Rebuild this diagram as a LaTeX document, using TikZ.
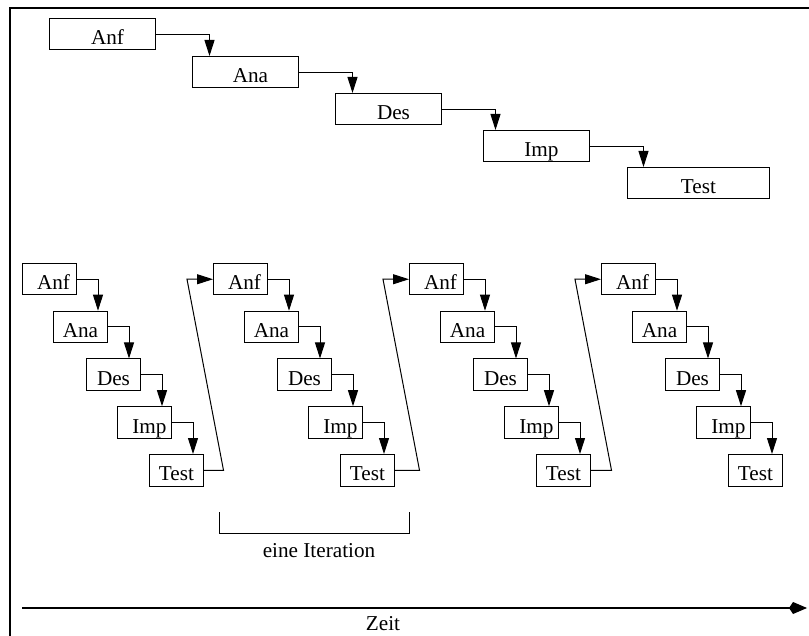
\documentclass[tikz,border=0pt]{standalone}
\usepackage{fontspec}
\setmainfont{Liberation Serif}
\usetikzlibrary{arrows.meta,calc}

\begin{document}
\begin{tikzpicture}[x=0.5pt,y=-0.5pt,
  box/.style={draw, line width=0.5pt, rectangle, anchor=north west,
    minimum height=15.75pt, inner sep=0pt},
  sbox/.style={box, minimum width=27pt},
  wbox/.style={box, minimum width=53pt},
  txt/.style={font=\fontsize{10.6}{12}\selectfont, inner sep=0pt,
    text height=10.5pt, text depth=0pt},
  flow/.style={line width=0.5pt, -{Triangle[length=8pt,width=5pt]}},
  thin line/.style={line width=0.5pt},
  frame/.style={line width=1.1pt},
  timeline/.style={line width=0.75pt, -{Kite[length=9pt,width=6pt,inset=2pt]}}
]
\useasboundingbox (0,0) rectangle (809,636);

% partial frame (top and left edges)
\coordinate (frBL) at (10,636);
\coordinate (frTL) at (10,8);
\coordinate (frTR) at (809,8);
\draw[frame] (frBL) -- (frTL) -- (frTR);

% sequential process (waterfall)
\node[wbox, label={[txt,xshift=2.5pt]center:Anf}] (tanf) at (49,18) {};
\node[wbox, label={[txt,xshift=2.5pt]center:Ana}] (tana) at (192,56) {};
\node[wbox, label={[txt,xshift=2.5pt]center:Des}] (tdes) at (335,93) {};
\node[wbox, label={[txt,xshift=2.5pt]center:Imp}] (timp) at (483,130) {};
\node[box, minimum width=71pt, label={[txt]center:Test}] (ttest) at (627,167) {};

\draw[flow] (tanf.east) -| ([xshift=26.75pt]tanf.east |- tana.north);
\draw[flow] (tana.east) -| ([xshift=26.75pt]tana.east |- tdes.north);
\draw[flow] (tdes.east) -| ([xshift=26.75pt]tdes.east |- timp.north);
\draw[flow] (timp.east) -| ([xshift=26.75pt]timp.east |- ttest.north);

% iterative process: four passes
\foreach \c/\X in {1/22, 2/213, 3/409, 4/601} {
  \node[sbox, label={[txt,xshift=2pt]center:Anf}] (anf\c) at (\X,263) {};
  \node[sbox, label={[txt]center:Ana}] (ana\c) at (\X+31,310.75) {};
  \node[sbox, label={[txt]center:Des}] (des\c) at (\X+64,358.5) {};
  \node[sbox, label={[txt,xshift=2.5pt]center:Imp}] (imp\c) at (\X+95,406.25) {};
  \node[sbox, label={[txt]center:Test}] (test\c) at (\X+127,454) {};
  \draw[flow] (anf\c.east) -| ([xshift=10.5pt]anf\c.east |- ana\c.north);
  \draw[flow] (ana\c.east) -| ([xshift=10.5pt]ana\c.east |- des\c.north);
  \draw[flow] (des\c.east) -| ([xshift=10.5pt]des\c.east |- imp\c.north);
  \draw[flow] (imp\c.east) -| ([xshift=10.5pt]imp\c.east |- test\c.north);
}

% feedback from one pass to the next
\foreach \a/\b in {1/2, 2/3, 3/4} {
  \coordinate (fbL\a) at ([xshift=5.25pt]anf\b.west |- test\a.east);
  \coordinate (fbU\a) at ([xshift=-13pt]anf\b.west);
  \draw[flow] (test\a.east) -- (fbL\a) -- (fbU\a) -- (anf\b.west);
}

% bracket marking one iteration
\coordinate (brL) at (219,512);
\coordinate (brLb) at (219,533);
\coordinate (brRb) at (409,533);
\coordinate (brR) at (409,512);
\draw[thin line] (brL) -- (brLb) -- (brRb) -- (brR);
\node[txt, anchor=base] (iter) at (319,557) {eine Iteration};

% time axis
\coordinate (t0) at (22,608);
\coordinate (t1) at (807,608);
\draw[timeline] (t0) -- (t1);
\node[txt, anchor=base] (zeit) at (383,630) {Zeit};
\end{tikzpicture}
\end{document}
